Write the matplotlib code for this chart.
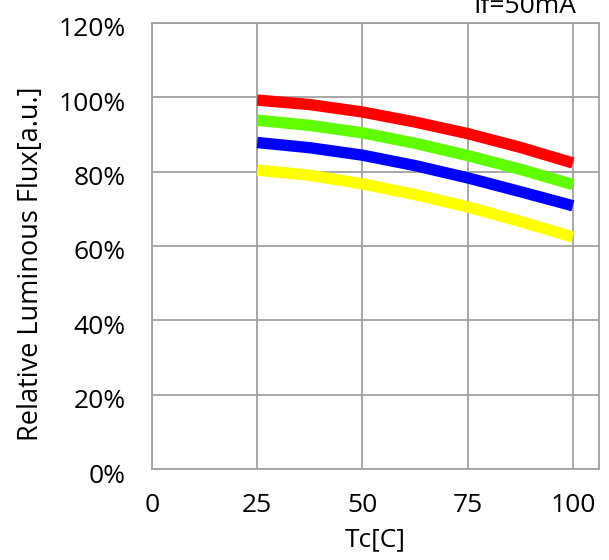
import matplotlib.pyplot as plt
import matplotlib.transforms as mtransforms
from matplotlib.ticker import FuncFormatter

plt.rcParams['font.family'] = ['Open Sans', 'DejaVu Sans']

# 壳温 Tc[C]
tc = [25, 37.5, 50, 62.5, 75, 87.5, 100]

# 相对光通量 (%)
flux_red = [99.2, 98.0, 96.0, 93.3, 90.2, 86.5, 82.3]
flux_green = [93.8, 92.4, 90.4, 87.6, 84.3, 80.6, 76.5]
flux_blue = [87.8, 86.4, 84.4, 81.6, 78.3, 74.6, 70.8]
flux_yellow = [80.4, 79.0, 76.7, 73.8, 70.5, 66.6, 62.4]

series = [
    (flux_red, "#ff0000"),
    (flux_green, "#5fff00"),
    (flux_blue, "#0000ff"),
    (flux_yellow, "#ffff00"),
]

x_ticks = [0, 25, 50, 75, 100]
y_ticks = [0, 20, 40, 60, 80, 100, 120]

fig = plt.figure(figsize=(6.09, 5.60), dpi=100)
ax = fig.add_axes([0.2496, 0.162, 0.734, 0.7975])

for vals, col in series:
    ax.plot(tc, vals, color=col, lw=8.2, solid_capstyle='butt', zorder=3)

ax.set_xlim(0, 106.2)
ax.set_ylim(0, 120)
ax.set_xticks(x_ticks)
ax.set_yticks(y_ticks)
ax.yaxis.set_major_formatter(FuncFormatter(lambda v, p: f"{v:.0f}%"))
ax.grid(True, color="#a0a0a0", lw=1.3, zorder=1)
ax.tick_params(length=0, labelsize=19, colors='black')
ax.tick_params(axis='x', pad=17)
ax.tick_params(axis='y', pad=19)
for s in ax.spines.values():
    s.set_color("#a0a0a0")
    s.set_linewidth(1.3)

# y刻度标签略低于网格线
offset = mtransforms.ScaledTranslation(0, -0.04, fig.dpi_scale_trans)
for lab in ax.get_yticklabels():
    lab.set_transform(lab.get_transform() + offset)

ax.set_xlabel("Tc[C]", fontsize=19, labelpad=7)
ax.set_ylabel("Relative Luminous Flux[a.u.]", fontsize=19.5)
ax.yaxis.set_label_coords(-0.240, 0.46)

fig.text(0.862, 1 - 12.7 / 560, "If=50mA", ha='center', va='baseline', fontsize=19)

fig.savefig("out.png", dpi=100, facecolor='white')
